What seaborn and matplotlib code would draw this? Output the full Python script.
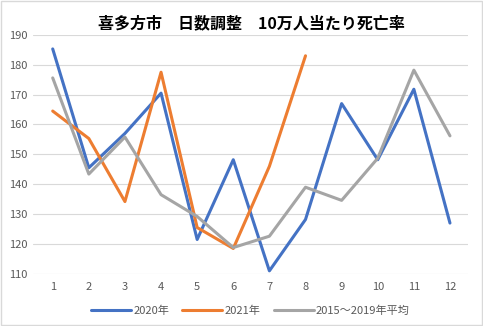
import matplotlib
matplotlib.use("Agg")
import matplotlib.pyplot as plt
import seaborn as sns
import pandas as pd

months = list(range(1, 13))
y2020 = [185.3, 145.5, 157, 170.5, 121.5, 148.2, 111, 128.2, 167, 148.2, 171.8, 127]
y2021 = [164.5, 155.3, 134.2, 177.5, 125.5, 118.5, 146, 183]
yavg = [175.6, 143.4, 155.8, 136.5, 129.2, 118.8, 122.6, 139, 134.6, 148.7, 178.2, 156.2]
series_names = ["2020年", "2021年", "2015～2019年平均"]
colors = ["#4472C4", "#ED7D31", "#A5A5A5"]
title = "喜多方市　日数調整　10万人当たり死亡率"
yticks = list(range(110, 191, 10))

rows = []
for m, v in zip(months, y2020):
    rows.append((m, v, series_names[0]))
for m, v in zip(months, y2021):
    rows.append((m, v, series_names[1]))
for m, v in zip(months, yavg):
    rows.append((m, v, series_names[2]))
df = pd.DataFrame(rows, columns=["month", "value", "series"])

sns.set_theme(style="white")
plt.rcParams['font.family'] = ['Noto Sans CJK JP', 'DejaVu Sans']

fig = plt.figure(figsize=(4.83, 3.26), dpi=100)
ax = fig.add_axes([0.068, 0.16, 0.901, 0.733])
sns.lineplot(data=df, x="month", y="value", hue="series", palette=colors,
             hue_order=series_names, linewidth=2.2, ax=ax, legend=True)
ax.set_xlim(0.45, 12.5)
ax.set_ylim(110, 190)
ax.set_xticks(months)
ax.set_yticks(yticks)
ax.grid(axis="y", color="#D9D9D9", linewidth=0.8)
ax.set_axisbelow(True)
for s in ax.spines.values():
    s.set_visible(False)
ax.tick_params(axis="x", length=0, labelsize=8, colors="#595959", pad=6)
ax.tick_params(axis="y", length=0, labelsize=8, colors="#595959", pad=4)
ax.set_xlabel("")
ax.set_ylabel("")
leg = ax.legend(loc="upper center", bbox_to_anchor=(0.5, -0.09), ncol=3,
                frameon=False, fontsize=8, handlelength=3.6, columnspacing=1.2,
                handletextpad=0.2)
for t in leg.get_texts():
    t.set_color("#595959")
for h in leg.get_lines():
    h.set_linewidth(2.2)
fig.text(0.52, 0.93, title, ha="center", va="center", fontsize=11.5, color="#000000", weight="bold")
fig.patches.append(plt.Rectangle((0.002, 0.003), 0.995, 0.993, transform=fig.transFigure,
                                 fill=False, edgecolor="#D9D9D9", linewidth=1))
fig.savefig("out.png", dpi=100, facecolor="white")
